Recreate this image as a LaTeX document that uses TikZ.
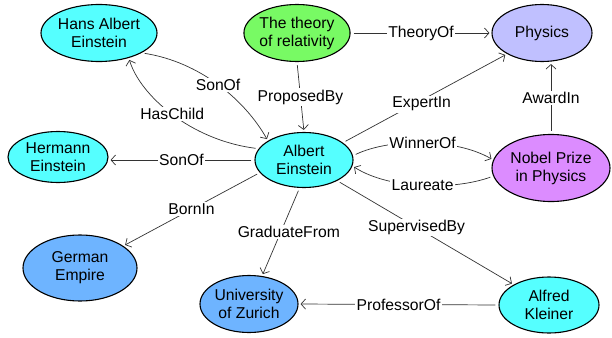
\documentclass[tikz,border=0pt]{standalone}
\usepackage{fontspec}
\setmainfont{Liberation Sans}
\usetikzlibrary{shapes.geometric,arrows.meta}
\definecolor{cyanf}{RGB}{85,255,255}
\definecolor{greenf}{RGB}{120,250,100}
\definecolor{lavf}{RGB}{192,192,255}
\definecolor{violf}{RGB}{220,140,255}
\definecolor{bluef}{RGB}{110,180,255}
\begin{document}
\begin{tikzpicture}[x=1pt,y=-1pt,
  ent/.style={ellipse,draw=black,line width=1.1pt,inner sep=0pt,align=center,
    font=\fontsize{15.7}{18}\selectfont},
  rel/.style={draw=black!80,line width=0.7pt,-{Straight Barb[length=4.5pt,width=10pt]},
    shorten <=3pt,shorten >=2pt},
  lab/.style={fill=white,inner sep=1.5pt,font=\fontsize{15.7}{18}\selectfont}]
\useasboundingbox (0,0) rectangle (612,337);
\node[ent,fill=cyanf,minimum width=98pt,minimum height=57pt] (hans) at (99,33) {Hans Albert\\Einstein};
\node[ent,fill=greenf,minimum width=99pt,minimum height=57pt] (theory) at (297,33) {The theory\\of relativity};
\node[ent,fill=lavf,minimum width=100pt,minimum height=57pt] (physics) at (542,33) {Physics};
\node[ent,fill=cyanf,minimum width=100pt,minimum height=51pt] (hermann) at (58,157) {Hermann\\Einstein};
\node[ent,fill=cyanf,minimum width=98pt,minimum height=55pt] (albert) at (304,160) {Albert\\Einstein};
\node[ent,fill=violf,minimum width=118pt,minimum height=67pt] (nobel) at (551,168) {Nobel Prize\\in Physics};
\node[ent,fill=bluef,minimum width=114pt,minimum height=66pt] (german) at (80,268) {German\\Empire};
\node[ent,fill=bluef,minimum width=98pt,minimum height=57pt] (zurich) at (249,304) {University\\of Zurich};
\node[ent,fill=cyanf,minimum width=100pt,minimum height=56pt] (kleiner) at (549,305) {Alfred\\Kleiner};

\draw[rel] (theory.east) -- node[lab] {TheoryOf} (physics.west);
\draw[rel] (theory.south) -- node[lab] {ProposedBy} (albert.north);
\draw[rel] (albert.24) -- node[lab,pos=0.48,yshift=-4pt] {ExpertIn} (physics.211);
\draw[rel] (nobel.north) -- node[lab] {AwardIn} (nobel.north |- physics.south);
\draw[rel] (albert.5) .. controls (390,138) and (455,138) .. node[lab] {WinnerOf} (nobel.172);
\draw[rel] (nobel.188) .. controls (455,190) and (390,190) .. node[lab] {Laureate} (albert.-7);
\draw[rel] (hans.-25) .. controls (200,62) and (245,100) .. node[lab] {SonOf} (albert.152);
\draw[rel] (albert.166) .. controls (190,140) and (140,95) .. node[lab] {HasChild} (hans.-40);
\draw[rel] (albert.west) -- node[lab] {SonOf} (hermann.east |- albert.west);
\draw[rel] (albert.196) -- node[lab] {BornIn} (german.27);
\draw[rel] (albert.-99) -- node[lab,xshift=8pt] {GraduateFrom} (zurich.65);
\draw[rel] (albert.-32) -- node[lab,pos=0.45] {SupervisedBy} (kleiner.150);
\draw[rel] (kleiner.west) -- node[lab] {ProfessorOf} (zurich.east);
\end{tikzpicture}
\end{document}
